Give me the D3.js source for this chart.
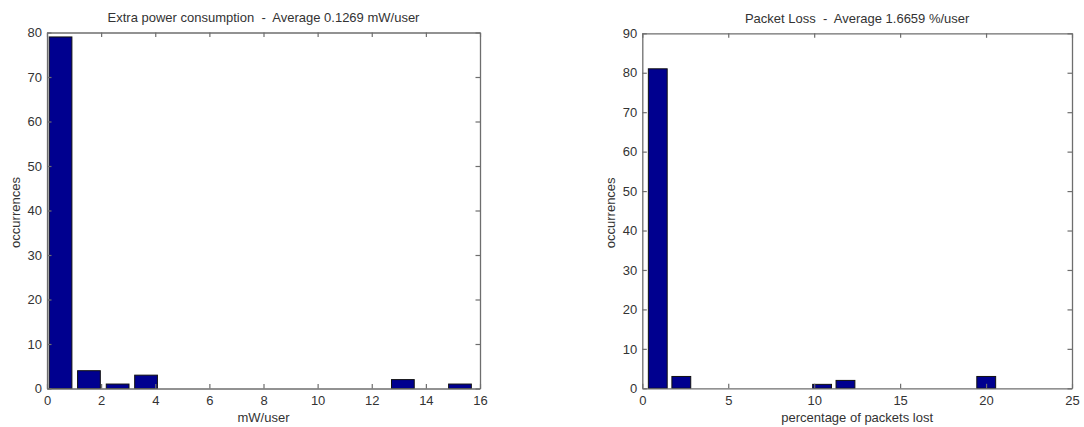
<!DOCTYPE html>
<html>
<head>
<meta charset="utf-8">
<script src="https://cdn.jsdelivr.net/npm/d3@7"></script>
<style>
  html, body { margin: 0; padding: 0; background: #fff; }
  svg { display: block; }
  text { font-family: "Liberation Sans", Arial, Helvetica, sans-serif; fill: #333; white-space: pre; }
</style>
</head>
<body>
<svg id="chart" width="1084" height="427"></svg>
<script>
// Histogram 1: extra power consumption per user (15 bins)
const powerBinCenters = [0.50, 1.55, 2.61, 3.66, 4.72, 5.77, 6.82, 7.88, 8.93, 9.99, 11.04, 12.10, 13.15, 14.20, 15.26];
const powerCounts     = [79, 4, 1, 3, 0, 0, 0, 0, 0, 0, 0, 0, 2, 0, 1];
const powerXTicks     = [0, 2, 4, 6, 8, 10, 12, 14, 16];
const powerYTicks     = [0, 10, 20, 30, 40, 50, 60, 70, 80];

// Histogram 2: packet loss per user (15 bins)
const lossBinCenters = [0.90, 2.27, 3.63, 5.00, 6.36, 7.73, 9.09, 10.46, 11.82, 13.19, 14.55, 15.92, 17.28, 18.65, 20.01];
const lossCounts     = [81, 3, 0, 0, 0, 0, 0, 1, 2, 0, 0, 0, 0, 0, 3];
const lossXTicks     = [0, 5, 10, 15, 20, 25];
const lossYTicks     = [0, 10, 20, 30, 40, 50, 60, 70, 80, 90];

const svg = d3.select("#chart");
const BAR_FILL = "#00008f";
const AXIS_COLOR = "#6e6e6e";
const TICK_LEN = 4.5;
const BAR_FRACTION = 0.8;

function histogram(opts) {
  const { left, right, top, bottom, xDomain, yDomain, centers, counts,
          xTicks, yTicks, title, titleY, xLabel, yLabelX } = opts;
  const x = d3.scaleLinear().domain(xDomain).range([left, right]);
  const y = d3.scaleLinear().domain(yDomain).range([bottom, top]);
  const g = svg.append("g");

  // bars
  const binWidth = centers[1] - centers[0];
  const barW = binWidth * BAR_FRACTION;
  const bars = centers.map((c, i) => ({ c, n: counts[i] })).filter(d => d.n > 0);
  g.selectAll("rect.bar").data(bars).join("rect")
    .attr("class", "bar")
    .attr("x", d => x(d.c - barW / 2))
    .attr("width", d => x(d.c + barW / 2) - x(d.c - barW / 2))
    .attr("y", d => y(d.n))
    .attr("height", d => y(0) - y(d.n))
    .attr("fill", BAR_FILL)
    .attr("stroke", "#111")
    .attr("stroke-width", 1);

  // axes with inward ticks on all four sides
  const axStyle = sel => {
    sel.select(".domain").attr("stroke", AXIS_COLOR).attr("stroke-width", 1.3);
    sel.selectAll(".tick line").attr("stroke", AXIS_COLOR).attr("stroke-width", 1.2);
  };
  g.append("g").attr("transform", `translate(0,${bottom})`)
    .call(d3.axisBottom(x).tickValues(xTicks).tickSizeInner(-TICK_LEN).tickSizeOuter(0).tickPadding(7).tickFormat(d3.format("d")))
    .call(axStyle)
    .call(s => s.selectAll("text").attr("font-size", 13).attr("fill", "#333").attr("font-family", null));
  g.append("g").attr("transform", `translate(0,${top})`)
    .call(d3.axisTop(x).tickValues(xTicks).tickSizeInner(-TICK_LEN).tickSizeOuter(0).tickFormat(""))
    .call(axStyle);
  g.append("g").attr("transform", `translate(${left},0)`)
    .call(d3.axisLeft(y).tickValues(yTicks).tickSizeInner(-TICK_LEN).tickSizeOuter(0).tickPadding(5).tickFormat(d3.format("d")))
    .call(axStyle)
    .call(s => s.selectAll("text").attr("font-size", 13).attr("fill", "#333").attr("font-family", null));
  g.append("g").attr("transform", `translate(${right},0)`)
    .call(d3.axisRight(y).tickValues(yTicks).tickSizeInner(-TICK_LEN).tickSizeOuter(0).tickFormat(""))
    .call(axStyle);
  g.selectAll(".tick text").style("font-family", '"Liberation Sans", Arial, sans-serif');

  // title and axis labels
  g.append("text")
    .attr("x", (left + right) / 2).attr("y", titleY)
    .attr("text-anchor", "middle").attr("font-size", 13)
    .text(title);
  g.append("text")
    .attr("x", (left + right) / 2).attr("y", 422)
    .attr("text-anchor", "middle").attr("font-size", 13)
    .text(xLabel);
  g.append("text")
    .attr("transform", `translate(${yLabelX},${(top + bottom) / 2 + 2}) rotate(-90)`)
    .attr("text-anchor", "middle").attr("dominant-baseline", "central").attr("font-size", 13)
    .text("occurrences");
}

histogram({
  left: 47, right: 480, top: 32.5, bottom: 388.5,
  xDomain: [0, 16], yDomain: [0, 80],
  centers: powerBinCenters, counts: powerCounts,
  xTicks: powerXTicks, yTicks: powerYTicks,
  title: "Extra power consumption  -  Average 0.1269 mW/user", titleY: 21.5,
  xLabel: "mW/user", yLabelX: 15
});

histogram({
  left: 642.3, right: 1072, top: 33.3, bottom: 388.3,
  xDomain: [0, 25], yDomain: [0, 90],
  centers: lossBinCenters, counts: lossCounts,
  xTicks: lossXTicks, yTicks: lossYTicks,
  title: "Packet Loss  -  Average 1.6659 %/user", titleY: 23,
  xLabel: "percentage of packets lost", yLabelX: 610
});
</script>
</body>
</html>
